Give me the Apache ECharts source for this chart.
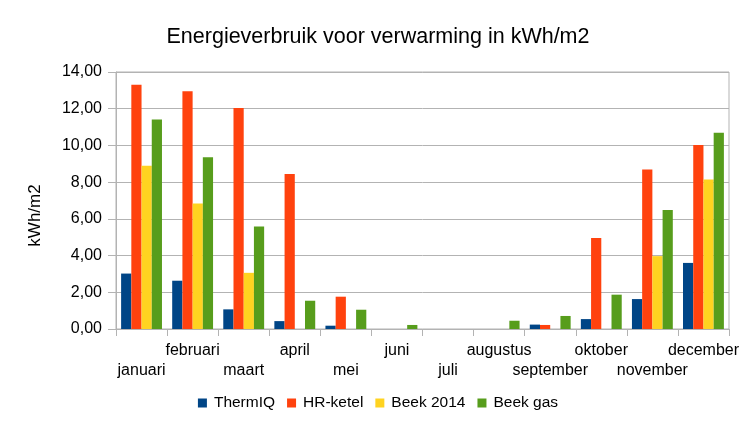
<!DOCTYPE html>
<html>
<head>
<meta charset="utf-8">
<script src="https://cdn.jsdelivr.net/npm/echarts@6/dist/echarts.min.js"></script>
<style>
html,body{margin:0;padding:0;background:#fff;}
#chart{width:756px;height:425px;}
</style>
</head>
<body>
<div id="chart"></div>
<script>
const months = ['januari','februari','maart','april','mei','juni','juli','augustus','september','oktober','november','december'];
const thermIQ  = [3.02, 2.63, 1.07, 0.43, 0.18, 0, 0, 0, 0.24, 0.54, 1.63, 3.60];
const hrKetel  = [13.31, 12.95, 12.04, 8.44, 1.76, 0, 0, 0, 0.22, 4.96, 8.69, 10.03];
const beek2014 = [8.89, 6.83, 3.06, 0, 0, 0, 0, 0, 0, 0, 3.97, 8.15];
const beekGas  = [11.41, 9.36, 5.58, 1.54, 1.05, 0.22, 0, 0.45, 0.71, 1.87, 6.48, 10.69];
const seriesNames = ['ThermIQ','HR-ketel','Beek 2014','Beek gas'];
const colors = ['#004586','#ff420e','#ffd320','#579d1c'];
const yTicks = {min:0, max:14, interval:2};

const font = 'Liberation Sans, Arial, sans-serif';
const chart = echarts.init(document.getElementById('chart'), null, {renderer:'canvas'});
const data = [thermIQ, hrKetel, beek2014, beekGas];
chart.setOption({
  animation:false,
  color: colors,
  textStyle:{fontFamily:font},
  title:{
    text:'Energieverbruik voor verwarming in kWh/m2',
    left:'center', top:21,
    textStyle:{fontFamily:font, fontSize:21.5, fontWeight:'normal', color:'#000'}
  },
  legend:{
    bottom:9, left:'center',
    itemWidth:9, itemHeight:9, itemGap:12,
    icon:'rect',
    textStyle:{fontFamily:font, fontSize:15.5, color:'#000', padding:[0,0,0,2]},
    data: seriesNames
  },
  grid:{left:116, right:27, top:72, bottom:96, show:true, borderColor:'#b3b3b3', borderWidth:1},
  xAxis:{
    type:'category',
    data: months,
    axisLine:{lineStyle:{color:'#b3b3b3'}},
    axisTick:{show:true, length:7, alignWithLabel:false, lineStyle:{color:'#b3b3b3'}},
    axisLabel:{
      interval:0, color:'#000', fontSize:16, fontFamily:font, margin:12, lineHeight:20,
      formatter:(v,i)=> i%2===0 ? '\n'+v : v
    }
  },
  yAxis:{
    type:'value',
    min:yTicks.min, max:yTicks.max, interval:yTicks.interval,
    name:'kWh/m2', nameLocation:'middle', nameGap:72,
    nameTextStyle:{fontFamily:font, fontSize:17, color:'#000', padding:[0,30,0,0]},
    axisLine:{show:true, lineStyle:{color:'#b3b3b3'}},
    axisTick:{show:true, length:8, lineStyle:{color:'#b3b3b3'}},
    splitLine:{lineStyle:{color:'#b3b3b3'}},
    axisLabel:{color:'#000', fontSize:16, fontFamily:font, margin:14,
      formatter:v=>v.toFixed(2).replace('.',',')}
  },
  series: seriesNames.map((n,i)=>({
    name:n, type:'bar', data:data[i],
    barGap:'0%', barCategoryGap:'20%',
    itemStyle:{color:colors[i]}
  }))
});
</script>
</body>
</html>
